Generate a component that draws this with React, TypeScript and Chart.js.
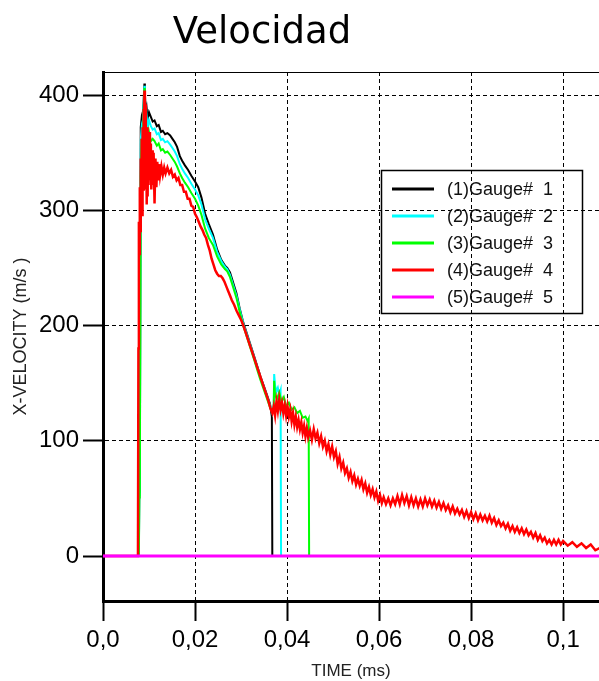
import React, { useEffect, useRef } from "react";
import { Chart, registerables } from "chart.js";

Chart.register(...registerables);

const chartTitle = "Velocidad";
const xAxisTitle = "TIME (ms)";
const yAxisTitle = "X-VELOCITY (m/s )";
const xTickValues = [0, 0.02, 0.04, 0.06, 0.08, 0.1];
const xTickLabels = ["0,0", "0,02", "0,04", "0,06", "0,08", "0,1"];
const yTickValues = [0, 100, 200, 300, 400];
const yTickLabels = ["0", "100", "200", "300", "400"];
const seriesNames = ["(1)Gauge#  1", "(2)Gauge#  2", "(3)Gauge#  3", "(4)Gauge#  4", "(5)Gauge#  5"];
const seriesColors = ["#000000", "#00ffff", "#00ff00", "#ff0000", "#ff00ff"];

const gauge1Time = [
  0, 0.0078, 0.0079, 0.008, 0.0082, 0.0084, 0.0086, 0.0088, 0.009, 0.0091,
  0.0093, 0.0095, 0.0097, 0.01, 0.0104, 0.0108, 0.0112, 0.0117, 0.0121, 0.0126,
  0.013, 0.0135, 0.014, 0.0146, 0.0151, 0.0156, 0.0161, 0.0167, 0.0172, 0.0178,
  0.0185, 0.0192, 0.02, 0.0207, 0.0214, 0.0222, 0.023, 0.0239, 0.0248, 0.0257,
  0.0265, 0.027, 0.0276, 0.0283, 0.029, 0.0297, 0.0304, 0.0312, 0.032, 0.0328,
  0.0335, 0.0342, 0.035, 0.0357, 0.0363, 0.0367, 0.0368, 0.108,
];
const gauge1Vel = [
  0, 0, 73, 55, 372, 380, 376, 392, 410, 402,
  383, 388, 379, 385, 381, 377, 378, 373, 374, 368,
  369, 366, 367, 365, 362, 359, 355, 347, 343, 339,
  335, 330, 325, 320, 311, 297, 288, 279, 266, 257,
  252, 250, 246, 237, 228, 215, 204, 194, 184, 174,
  165, 156, 147, 139, 132, 121, 0, 0,
];

const gauge2Time = [
  0, 0.0078, 0.0079, 0.008, 0.0082, 0.0084, 0.0086, 0.0088, 0.009, 0.0091,
  0.0093, 0.0095, 0.0097, 0.01, 0.0104, 0.0108, 0.0112, 0.0117, 0.0121, 0.0126,
  0.013, 0.0135, 0.014, 0.0146, 0.0151, 0.0156, 0.0161, 0.0167, 0.0172, 0.0178,
  0.0185, 0.0192, 0.02, 0.0207, 0.0214, 0.0222, 0.023, 0.0239, 0.0248, 0.0257,
  0.0265, 0.027, 0.0276, 0.0283, 0.029, 0.0297, 0.0304, 0.0312, 0.032, 0.0328,
  0.0335, 0.0342, 0.035, 0.0357, 0.0363, 0.0368, 0.0371, 0.0372, 0.0374, 0.0377,
  0.038, 0.0383, 0.0386, 0.0387, 0.108,
];
const gauge2Vel = [
  0, 0, 66, 52, 360, 372, 368, 388, 408, 398,
  376, 381, 372, 378, 373, 370, 371, 366, 367, 361,
  362, 359, 360, 357, 354, 351, 347, 340, 336, 332,
  328, 323, 318, 313, 305, 292, 284, 276, 264, 256,
  251, 249, 244, 235, 226, 214, 203, 193, 183, 173,
  164, 155, 146, 138, 131, 124, 130, 158, 148, 143,
  146, 140, 144, 0, 0,
];

const gauge3Time = [
  0, 0.0078, 0.0079, 0.008, 0.0082, 0.0084, 0.0086, 0.0088, 0.009, 0.0091,
  0.0093, 0.0095, 0.0097, 0.01, 0.0104, 0.0108, 0.0112, 0.0117, 0.0121, 0.0126,
  0.013, 0.0135, 0.014, 0.0146, 0.0151, 0.0156, 0.0161, 0.0167, 0.0172, 0.0178,
  0.0185, 0.0192, 0.02, 0.0207, 0.0214, 0.0222, 0.023, 0.0239, 0.0248, 0.0257,
  0.0265, 0.027, 0.0276, 0.0283, 0.029, 0.0297, 0.0304, 0.0312, 0.032, 0.0328,
  0.0335, 0.0342, 0.035, 0.0357, 0.0363, 0.0368, 0.0371, 0.0372, 0.0374, 0.0378,
  0.0383, 0.0388, 0.0393, 0.0398, 0.0404, 0.041, 0.0416, 0.0422, 0.0428, 0.0434,
  0.044, 0.0445, 0.0447, 0.0448, 0.108,
];
const gauge3Vel = [
  0, 0, 56, 50, 330, 362, 340, 380, 406, 392,
  360, 372, 355, 368, 360, 362, 360, 356, 358, 352,
  353, 350, 351, 348, 345, 342, 338, 332, 328, 324,
  320, 315, 310, 304, 296, 284, 276, 270, 260, 253,
  249, 247, 242, 233, 224, 212, 201, 191, 181, 171,
  162, 153, 144, 136, 129, 125, 128, 152, 140, 136,
  142, 134, 138, 130, 133, 127, 129, 124, 126, 120,
  121, 117, 119, 0, 0,
];

const gauge4Time = [
  0, 0.0076, 0.0077, 0.0078, 0.0079, 0.008, 0.0081, 0.0082, 0.0083, 0.0084,
  0.0085, 0.0086, 0.0087, 0.0088, 0.0089, 0.009, 0.0091, 0.0092, 0.0093, 0.0094,
  0.0095, 0.0096, 0.0097, 0.0098, 0.0099, 0.0101, 0.0102, 0.0104, 0.0105, 0.0107,
  0.0108, 0.011, 0.0112, 0.0114, 0.0116, 0.0118, 0.012, 0.0122, 0.0124, 0.0127,
  0.013, 0.0133, 0.0136, 0.014, 0.0144, 0.0148, 0.0152, 0.0156, 0.016, 0.0164,
  0.0168, 0.0172, 0.0176, 0.018, 0.0184, 0.0188, 0.0192, 0.0196, 0.02, 0.0204,
  0.0208, 0.0212, 0.0216, 0.022, 0.0224, 0.0228, 0.0232, 0.0236, 0.024, 0.0244,
  0.0248, 0.0252, 0.0256, 0.026, 0.0264, 0.0268, 0.0272, 0.0276, 0.028, 0.0285,
  0.029, 0.0295, 0.03, 0.0305, 0.031, 0.0315, 0.032, 0.0325, 0.033, 0.0335,
  0.034, 0.0345, 0.035, 0.0355, 0.036, 0.0364, 0.0368, 0.0371, 0.0374, 0.0377,
  0.038, 0.0383, 0.0386, 0.0389, 0.0392, 0.0395, 0.0398, 0.0401, 0.0404, 0.0407,
  0.041, 0.0413, 0.0416, 0.0419, 0.0422, 0.0425, 0.0428, 0.0431, 0.0434, 0.0437,
  0.044, 0.0443, 0.0446, 0.045, 0.0454, 0.0458, 0.0462, 0.0466, 0.047, 0.0474,
  0.0478, 0.0482, 0.0486, 0.049, 0.0494, 0.0498, 0.0502, 0.0506, 0.051, 0.0514,
  0.0518, 0.0522, 0.0526, 0.053, 0.0534, 0.0538, 0.0542, 0.0546, 0.055, 0.0554,
  0.0558, 0.0562, 0.0566, 0.057, 0.0574, 0.0578, 0.0582, 0.0586, 0.059, 0.0594,
  0.0598, 0.0602, 0.0606, 0.061, 0.0615, 0.062, 0.0625, 0.063, 0.0635, 0.064,
  0.0645, 0.065, 0.0655, 0.066, 0.0665, 0.067, 0.0675, 0.068, 0.0685, 0.069,
  0.0695, 0.07, 0.0705, 0.071, 0.0715, 0.072, 0.0725, 0.073, 0.0735, 0.074,
  0.0745, 0.075, 0.0755, 0.076, 0.0765, 0.077, 0.0775, 0.078, 0.0785, 0.079,
  0.0795, 0.08, 0.0805, 0.081, 0.0815, 0.082, 0.0825, 0.083, 0.0835, 0.084,
  0.0845, 0.085, 0.0855, 0.086, 0.0865, 0.087, 0.0875, 0.088, 0.0885, 0.089,
  0.0895, 0.09, 0.0905, 0.091, 0.0915, 0.092, 0.0925, 0.093, 0.0935, 0.094,
  0.0945, 0.095, 0.0955, 0.096, 0.0965, 0.097, 0.0975, 0.098, 0.0985, 0.099,
  0.0995, 0.1, 0.101, 0.102, 0.103, 0.104, 0.105, 0.106, 0.107, 0.108,
];
const gauge4Vel = [
  0, 0, 180, 290, 262, 320, 282, 345, 300, 362,
  296, 372, 318, 388, 330, 404, 352, 392, 318, 365,
  305, 372, 312, 360, 322, 368, 326, 358, 318, 352,
  322, 350, 306, 345, 320, 342, 326, 340, 330, 338,
  331, 337, 332, 337, 332, 335, 329, 331, 326, 328,
  322, 322, 316, 316, 310, 310, 304, 303, 297, 294,
  290, 286, 283, 279, 276, 270, 265, 258, 253, 248,
  245, 243, 243, 241, 238, 234, 230, 226, 222, 218,
  213, 209, 205, 200, 194, 188, 182, 176, 170, 164,
  158, 152, 146, 140, 134, 128, 124, 130, 122, 134,
  126, 136, 127, 133, 124, 131, 122, 130, 121, 127,
  117, 124, 114, 121, 112, 118, 110, 116, 107, 113,
  104, 111, 103, 109, 101, 110, 102, 107, 98, 104,
  95, 100, 91, 97, 88, 95, 86, 91, 80, 86,
  76, 81, 72, 76, 68, 73, 65, 70, 62, 67,
  61, 66, 58, 63, 55, 60, 53, 58, 51, 56,
  48, 53, 46, 51, 45, 50, 44, 50, 45, 52,
  45, 53, 46, 52, 44, 51, 44, 50, 43, 49,
  43, 50, 44, 49, 43, 48, 42, 47, 41, 46,
  40, 44, 38, 43, 37, 41, 36, 40, 34, 39,
  33, 38, 32, 37, 31, 36, 31, 35, 30, 35,
  29, 33, 27, 31, 26, 29, 24, 28, 22, 26,
  21, 25, 20, 24, 19, 23, 18, 21, 16, 20,
  14, 18, 13, 16, 11, 14, 10, 14, 10, 14,
  10, 13, 9, 12, 8, 11, 7, 10, 5, 7,
];

const gauge5Time = [0, 0.108];
const gauge5Vel = [0, 0];

const seriesTimes = [gauge1Time, gauge2Time, gauge3Time, gauge4Time, gauge5Time];
const seriesVels = [gauge1Vel, gauge2Vel, gauge3Vel, gauge4Vel, gauge5Vel];

const FONT = "'Liberation Sans', Arial, sans-serif";

const decorPlugin = {
  id: "decor",
  afterDraw(chart: any) {
    const { ctx, chartArea } = chart;
    ctx.save();
    // top frame line
    ctx.strokeStyle = "#000";
    ctx.lineWidth = 1;
    ctx.beginPath();
    ctx.moveTo(chartArea.left, chartArea.top + 0.5);
    ctx.lineTo(chartArea.right, chartArea.top + 0.5);
    ctx.stroke();

    // title
    ctx.fillStyle = "#000";
    ctx.font = "37px 'DejaVu Sans', sans-serif";
    ctx.textAlign = "center";
    ctx.textBaseline = "alphabetic";
    ctx.fillText(chartTitle, 262, 43);

    // legend
    const bx = 381.5, by = 170.5, bw = 201, bh = 143;
    ctx.lineWidth = 1.5;
    ctx.strokeStyle = "#000";
    ctx.strokeRect(bx, by, bw, bh);
    ctx.font = "18px " + FONT;
    ctx.textAlign = "left";
    ctx.textBaseline = "middle";
    seriesNames.forEach((name, i) => {
      const y = 189 + i * 27;
      ctx.strokeStyle = seriesColors[i];
      ctx.lineWidth = 3;
      ctx.beginPath();
      ctx.moveTo(392, y);
      ctx.lineTo(434, y);
      ctx.stroke();
      ctx.fillStyle = "#111";
      ctx.fillText(name, 447, y + 1);
    });
    ctx.restore();
  },
};

export default function App() {
  const ref = useRef<HTMLCanvasElement | null>(null);

  useEffect(() => {
    if (!ref.current) return;
    const drawOrder = [5, 4, 3, 2, 1];
    const widths = [2, 2, 2, 2.5, 3];
    const datasets = seriesNames.map((name, i) => ({
      label: name,
      data: seriesTimes[i].map((t, j) => ({ x: t, y: seriesVels[i][j] })),
      borderColor: seriesColors[i],
      backgroundColor: seriesColors[i],
      borderWidth: widths[i],
      pointRadius: 0,
      tension: 0,
      fill: false,
      order: drawOrder[i],
    }));

    const chart = new Chart(ref.current, {
      type: "line",
      data: { datasets },
      plugins: [decorPlugin],
      options: {
        animation: false,
        responsive: false,
        devicePixelRatio: 1,
        parsing: false,
        layout: { padding: { top: 72, left: 0, right: 0, bottom: 0 } },
        plugins: {
          legend: { display: false },
          title: { display: false },
          tooltip: { enabled: false },
        },
        scales: {
          x: {
            type: "linear",
            min: 0,
            max: 0.1078,
            afterBuildTicks: (s: any) => {
              s.ticks = xTickValues.map((v) => ({ value: v }));
            },
            afterFit: (s: any) => {
              s.height = 80;
            },
            ticks: {
              autoSkip: false,
              maxRotation: 0,
              padding: 5,
              color: "#000",
              font: { family: FONT, size: 24 },
              callback: (_v: any, i: number) => xTickLabels[i],
            },
            grid: {
              color: "#000",
              lineWidth: 1,
              tickLength: 20,
              tickWidth: 2,
              tickColor: "#000",
              tickBorderDash: [],
            },
            border: { display: true, width: 3, color: "#000", dash: [4, 3] },
            title: {
              display: true,
              text: xAxisTitle,
              color: "#222",
              font: { family: FONT, size: 17, lineHeight: 1 },
              padding: { top: 0, bottom: 1 },
            },
          },
          y: {
            type: "linear",
            min: -39,
            max: 420,
            afterBuildTicks: (s: any) => {
              s.ticks = yTickValues.map((v) => ({ value: v }));
            },
            afterFit: (s: any) => {
              s.width = 103;
            },
            ticks: {
              autoSkip: false,
              padding: 4,
              color: "#000",
              font: { family: FONT, size: 24 },
              callback: (_v: any, i: number) => yTickLabels[i],
            },
            grid: {
              color: "#000",
              lineWidth: 1,
              tickLength: 20,
              tickWidth: 2,
              tickColor: "#000",
              tickBorderDash: [],
            },
            border: { display: true, width: 3, color: "#000", dash: [4, 3] },
            title: {
              display: true,
              text: yAxisTitle,
              color: "#222",
              font: { family: FONT, size: 18, lineHeight: 1.2 },
              padding: { top: 10, bottom: 0 },
            },
          },
        },
      } as any,
    });
    return () => chart.destroy();
  }, []);

  return (
    <div style={{ position: "absolute", left: 0, top: 0, width: 599, height: 681, background: "#fff" }}>
      <canvas ref={ref} width={599} height={681} style={{ width: 599, height: 681, display: "block" }} />
    </div>
  );
}
